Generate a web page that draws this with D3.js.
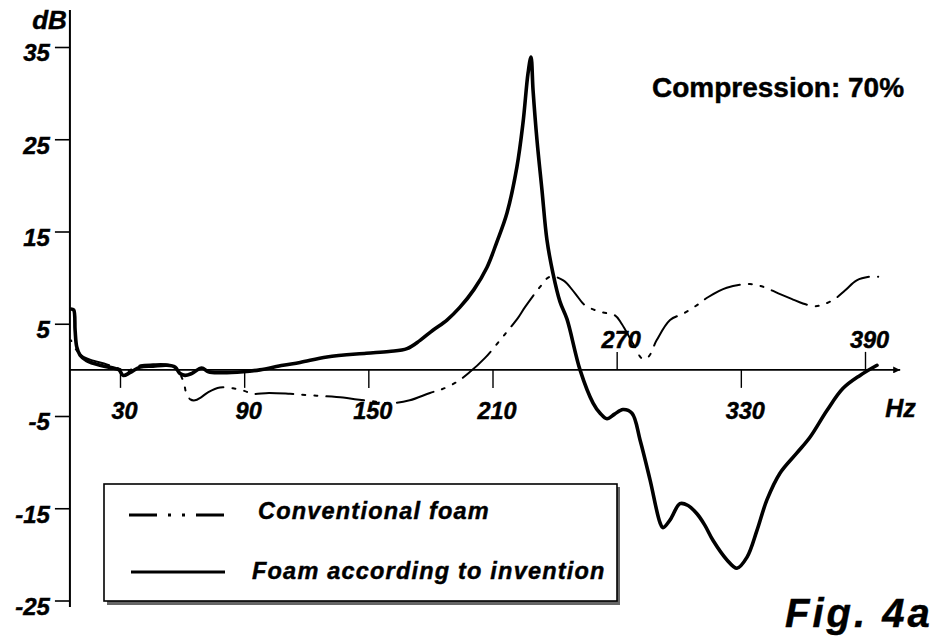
<!DOCTYPE html>
<html><head><meta charset="utf-8">
<script src="https://cdn.jsdelivr.net/npm/d3@7/dist/d3.min.js"></script>
<style>
body{margin:0;background:#fff}
text{font-family:"Liberation Sans",Arial,sans-serif;font-weight:bold;fill:#000;stroke:#000;stroke-width:0.45px}
</style>
</head><body>
<svg id="chart" width="942" height="641"></svg>
<script>
// ---------- data ----------
const yTicks = [35, 25, 15, 5, -5, -15, -25];
const xTicksBelow = [30, 90, 150, 210, 330];
const xTicksAbove = [270, 390];
const xTickLabels = {30:"30", 90:"90", 150:"150", 210:"210", 270:"270", 330:"330", 390:"390"};
const yUnit = "dB";
const xUnit = "Hz";
const annotation = "Compression: 70%";
const figLabel = "Fig. 4a";
const legendLabels = ["Conventional foam", "Foam according to invention"];

const inventionHz = [6.3, 7.6, 8.3, 9.1, 10.7, 13.9, 20.3, 26.8, 29.5, 31.6, 34.8, 39.7, 46, 52.6, 56.6, 59, 61.4, 64.6, 69.5, 72.7,
  78.3, 89.6, 97.6, 108.8, 117, 130, 149, 160, 168.7, 175, 181.2, 188, 194.3, 201, 207.3, 212, 217, 221.8, 224.7, 227.2,
  228.6, 229.6, 231.5, 233.9, 236.3, 239.2, 242.6, 246, 252.3, 258.6, 262, 265.3, 269, 273, 277.4, 281.3, 286.1, 291, 292.4, 296,
  300.6, 304.5, 308.8, 312.5, 316.6, 323.3, 328.1, 333, 337.8, 342.6, 348.9, 357.1, 363.4, 371.6, 379.4, 387.6, 395.8];
const inventionDb = [6.6, 6.5, 4.3, 2.5, 1.6, 1.0, 0.5, 0.2, 0, -0.6, -0.3, 0.3, 0.4, 0.5, 0.3, -0.4, -0.6, -0.4, 0.2, -0.2,
  -0.3, -0.2, 0, 0.5, 0.8, 1.4, 1.8, 2.0, 2.3, 3.2, 4.3, 5.4, 6.8, 8.7, 11.1, 13.8, 17.0, 22.0, 26.7, 32.2,
  33.9, 30.3, 24.9, 19.5, 14.1, 10.5, 7.4, 5.5, 0, -3.6, -4.7, -5.3, -4.8, -4.3, -4.7, -7.6, -11.9, -16.6, -17.1, -16.2,
  -14.5, -14.7, -15.6, -16.8, -18.5, -20.6, -21.5, -20.3, -17.4, -14.1, -11.2, -9.0, -7.3, -4.4, -2.0, -0.6, 0.5];

const conventionalHz = [6.3, 9.1, 12.3, 17.1, 23.6, 30, 33, 36, 40, 46, 52, 56.5, 58.5, 59.8, 61, 62, 64, 66.2, 69, 72.7,
  78.3, 84.6, 90.4, 93.6, 102, 112.2, 125, 137.8, 144.5, 152, 160.5, 170, 179.8, 185.6, 192.8, 198.2, 206.4, 213.6, 217.6, 222.5,
  225.7, 233, 237.8, 244.2, 249.9, 254.7, 262, 269.2, 272.4, 278, 282.5, 285.3, 289.3, 295.8, 302.2, 308.7, 314.3, 323.2, 334.4, 340.9,
  348.1, 354.5, 360, 365.8, 370, 375.5, 380.3, 386, 392.4, 396.4];
const conventionalDb = [3.2, 2.1, 1.4, 1.0, 0.6, 0.1, -0.2, 0.1, 0.5, 0.6, 0.6, 0.3, -0.2, -0.8, -1.5, -2.5, -3.2, -3.3, -3.0, -2.4,
  -1.9, -2.0, -2.3, -2.6, -2.5, -2.6, -2.8, -3.0, -3.2, -3.4, -3.6, -3.3, -2.5, -2.1, -1.3, -0.4, 1.3, 3.2, 4.3, 5.7,
  6.8, 9.0, 10.1, 9.7, 8.3, 7.0, 6.3, 5.9, 5.0, 2.8, 1.2, 1.4, 3.2, 5.4, 6.1, 7.0, 7.9, 8.9, 9.3, 9.0,
  8.3, 7.7, 7.2, 6.9, 7.1, 7.7, 8.6, 9.7, 10.1, 10.1];

const xAxisStartHz = 5.8;
const xAxisEndHz = 407;
const yAxisTopDb = 39;
const yAxisBottomDb = -25.7;

// ---------- drawing ----------
const svg = d3.select("#chart");
svg.append("rect").attr("width", 942).attr("height", 641).attr("fill", "#fff");

const x = d3.scaleLinear().domain([30, 390]).range([120, 865]);
const y = d3.scaleLinear().domain([35, -25]).range([47, 600.5]);

const x0 = x(xAxisStartHz);
const y0 = y(0);

// y axis
svg.append("line").attr("x1", x0).attr("x2", x0).attr("y1", y(yAxisTopDb)).attr("y2", y(yAxisBottomDb))
  .attr("stroke", "#000").attr("stroke-width", 2);
const yAx = svg.append("g").attr("transform", `translate(${x0},0)`)
  .call(d3.axisLeft(y).tickValues(yTicks).tickSize(15).tickPadding(5).tickFormat(d => String(d)));
yAx.select(".domain").remove();
yAx.selectAll(".tick line").attr("stroke", "#000").attr("stroke-width", 1.6);
yAx.selectAll(".tick text").attr("font-size", 24).attr("font-style", "italic")
  .attr("font-family", "Liberation Sans, Arial, sans-serif").attr("font-weight", "bold")
  .attr("fill", "#000").attr("dy", "0.58em");

svg.append("text").attr("x", x0 - 3).attr("y", y(yAxisTopDb) + 19).attr("text-anchor", "end")
  .attr("font-size", 26).attr("font-style", "italic").text(yUnit);

// x axis with arrow
svg.append("defs").append("marker").attr("id", "arr").attr("viewBox", "0 0 10 10")
  .attr("refX", 10).attr("refY", 5).attr("markerWidth", 10).attr("markerHeight", 7)
  .attr("markerUnits", "userSpaceOnUse").attr("orient", "auto")
  .append("path").attr("d", "M0,0 L10,5 L0,10 Z").attr("fill", "#000");
svg.append("line").attr("x1", x0).attr("x2", x(xAxisEndHz)).attr("y1", y0).attr("y2", y0)
  .attr("stroke", "#000").attr("stroke-width", 1.6).attr("marker-end", "url(#arr)");

const below = svg.append("g").attr("transform", `translate(0,${y0})`)
  .call(d3.axisBottom(x).tickValues(xTicksBelow).tickSize(18).tickPadding(14).tickFormat(d => xTickLabels[d]));
below.select(".domain").remove();
const above = svg.append("g").attr("transform", `translate(0,${y0})`)
  .call(d3.axisTop(x).tickValues(xTicksAbove).tickSize(18).tickPadding(4).tickFormat(d => xTickLabels[d]));
above.select(".domain").remove();
[below, above].forEach(g => {
  g.selectAll(".tick line").attr("stroke", "#000").attr("stroke-width", 1.4);
  g.selectAll(".tick text").attr("font-size", 23.5).attr("font-style", "italic")
    .attr("font-family", "Liberation Sans, Arial, sans-serif").attr("font-weight", "bold")
    .attr("fill", "#000").attr("dx", 4);
});

svg.append("text").attr("x", x(xAxisEndHz) - 15).attr("y", y0 + 47).attr("font-size", 25)
  .attr("font-style", "italic").text(xUnit);

// curves
const line = d3.line().x(d => x(d[0])).y(d => y(d[1])).curve(d3.curveCatmullRom.alpha(0.5));
const conv = d3.zip(conventionalHz, conventionalDb);
const inv = d3.zip(inventionHz, inventionDb);

svg.append("path").attr("d", line(conv)).attr("fill", "none").attr("stroke", "#000")
  .attr("stroke-width", 2).attr("stroke-dasharray", "38,9,3,9,3,9").attr("stroke-dashoffset", -10)
  .attr("stroke-linecap", "round");
svg.append("path").attr("d", line(inv)).attr("fill", "none").attr("stroke", "#000")
  .attr("stroke-width", 3.6).attr("stroke-linejoin", "round").attr("stroke-linecap", "round");

// annotation
svg.append("text").attr("x", 652).attr("y", 97).attr("font-size", 28).text(annotation);

// legend
const lg = svg.append("g");
lg.append("rect").attr("x", 107).attr("y", 487).attr("width", 513).attr("height", 118).attr("fill", "#666");
lg.append("rect").attr("x", 104).attr("y", 484).attr("width", 513).attr("height", 117)
  .attr("fill", "#fff").attr("stroke", "#000").attr("stroke-width", 1.6);
lg.append("line").attr("x1", 129).attr("x2", 224).attr("y1", 515).attr("y2", 515)
  .attr("stroke", "#000").attr("stroke-width", 3).attr("stroke-dasharray", "28,11,3,11,3,11");
lg.append("line").attr("x1", 131).attr("x2", 225).attr("y1", 572).attr("y2", 572)
  .attr("stroke", "#000").attr("stroke-width", 3);
lg.append("text").attr("x", 258).attr("y", 519).attr("font-size", 23.5).attr("font-style", "italic")
  .attr("letter-spacing", "1.2px").text(legendLabels[0]);
lg.append("text").attr("x", 252).attr("y", 579).attr("font-size", 23.5).attr("font-style", "italic")
  .attr("letter-spacing", "1.2px").text(legendLabels[1]);

// figure label
svg.append("text").attr("x", 785).attr("y", 627).attr("font-size", 40).attr("font-style", "italic")
  .attr("letter-spacing", "3px").text(figLabel);
</script>
</body></html>
